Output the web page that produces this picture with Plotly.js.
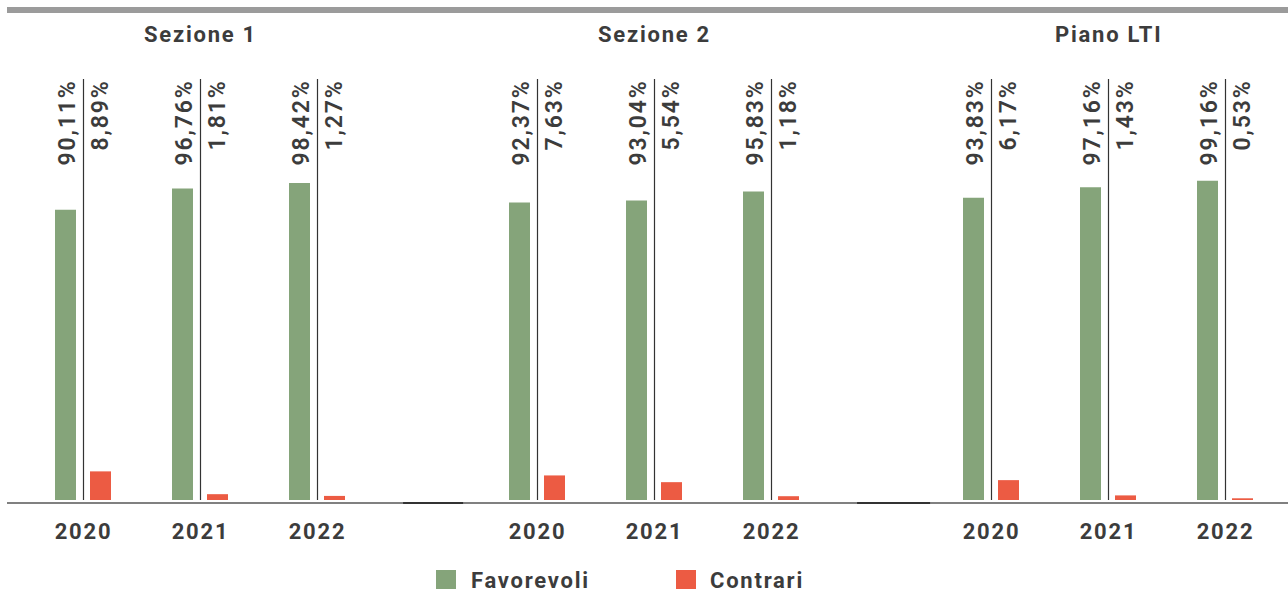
<!DOCTYPE html>
<html>
<head>
<meta charset="utf-8">
<script src="https://cdn.plot.ly/plotly-3.0.1.min.js"></script>
<style>
  html, body { margin: 0; padding: 0; background: #ffffff; }
  #chart { width: 1288px; height: 607px; }
  svg text { letter-spacing: 0.08em; }
</style>
</head>
<body>
<div id="chart"></div>
<script>
// ---------- data ----------
const groups = ["Sezione 1", "Sezione 2", "Piano LTI"];
const years = ["2020", "2021", "2022"];
const favorevoli = [90.11, 96.76, 98.42, 92.37, 93.04, 95.83, 93.83, 97.16, 99.16];
const contrari = [8.89, 1.81, 1.27, 7.63, 5.54, 1.18, 6.17, 1.43, 0.53];
const seriesNames = ["Favorevoli", "Contrari"];
const seriesColors = ["#85a47a", "#ec5b43"];

// ---------- layout constants ----------
const W = 1288, H = 607;
const M = { l: 7, r: 0, t: 0, b: 107 };
const PLOT_W = W - M.l - M.r, PLOT_H = H - M.t - M.b;
const UNIT_PX = 117;            // pixels per year step
const GROUP_STEP = 454 / 117;   // group spacing in year steps
const FIRST_PX = 83.5;          // pixel of first category centre
const PX_PER_PCT = 3.22;
const TEXT = "#3c3c3c";
const FONT = "Roboto, 'Liberation Sans', Arial, sans-serif";

const px2x = px => (px - FIRST_PX) / UNIT_PX;             // pixel -> x data
const px2pX = px => (px - M.l) / PLOT_W;                  // pixel -> paper x
const px2pY = py => (H - M.b - py) / PLOT_H;              // pixel -> paper y

const xs = [], tickText = [];
groups.forEach((g, gi) => years.forEach((y, yi) => {
  xs.push(gi * GROUP_STEP + yi);
  tickText.push(y);
}));
const fmt = v => v.toFixed(2).replace(".", ",") + "%";

const barW = 21 / UNIT_PX;
const traces = [
  { type: "bar", x: xs, y: favorevoli, name: seriesNames[0], width: barW,
    offset: -28.5 / UNIT_PX, marker: { color: seriesColors[0], line: { width: 0 } },
    hoverinfo: "skip", showlegend: false },
  { type: "bar", x: xs, y: contrari, name: seriesNames[1], width: barW,
    offset: 6.5 / UNIT_PX, marker: { color: seriesColors[1], line: { width: 0 } },
    hoverinfo: "skip", showlegend: false }
];

const shapes = [];
const annotations = [];

// top grey rule
shapes.push({ type: "rect", xref: "paper", yref: "paper", x0: 0, x1: 1,
  y0: px2pY(13), y1: px2pY(7), fillcolor: "#9b9b9b", line: { width: 0 }, layer: "below" });
// baseline
shapes.push({ type: "line", xref: "paper", yref: "paper", x0: 0, x1: 1,
  y0: px2pY(503), y1: px2pY(503), line: { color: "#808080", width: 2 } });
// darker separators between groups
[[1, -1.149, -0.636], [2, -1.149, -0.525]].forEach(([g, a, b]) => {
  shapes.push({ type: "line", xref: "x", yref: "paper",
    x0: g * GROUP_STEP + a, x1: g * GROUP_STEP + b,
    y0: px2pY(503), y1: px2pY(503), line: { color: "#333333", width: 2 } });
});

// vertical separators and value labels
const labelTop = px2pY(78);
xs.forEach((x, k) => {
  shapes.push({ type: "line", xref: "x", yref: "paper", x0: x, x1: x,
    y0: 0, y1: px2pY(79), line: { color: "#333333", width: 1.2 } });
  annotations.push({ xref: "x", yref: "paper", x: x, y: labelTop, xanchor: "center",
    yanchor: "top", xshift: -17, textangle: -90, showarrow: false, text: fmt(favorevoli[k]),
    font: { family: FONT, size: 23, color: TEXT, weight: 600 } });
  annotations.push({ xref: "x", yref: "paper", x: x, y: labelTop, xanchor: "center",
    yanchor: "top", xshift: 16.5, textangle: -90, showarrow: false, text: fmt(contrari[k]),
    font: { family: FONT, size: 23, color: TEXT, weight: 600 } });
});

// group titles
groups.forEach((g, gi) => {
  annotations.push({ xref: "x", yref: "paper", x: gi * GROUP_STEP + 1, y: px2pY(35),
    xanchor: "center", yanchor: "middle", showarrow: false, text: g,
    font: { family: FONT, size: 22, color: TEXT, weight: 700 } });
});

// legend (manual, larger swatches)
const legendPos = [{ sq: 436, tx: 469 }, { sq: 676, tx: 708 }];
seriesNames.forEach((n, i) => {
  shapes.push({ type: "rect", xref: "paper", yref: "paper",
    x0: px2pX(legendPos[i].sq), x1: px2pX(legendPos[i].sq + 20),
    y0: px2pY(589), y1: px2pY(570), fillcolor: seriesColors[i], line: { width: 0 } });
  annotations.push({ xref: "paper", yref: "paper", x: px2pX(legendPos[i].tx), y: px2pY(580),
    xanchor: "left", yanchor: "middle", showarrow: false, text: n,
    font: { family: FONT, size: 22, color: TEXT, weight: 700 } });
});

const layout = {
  width: W, height: H, margin: M,
  paper_bgcolor: "#ffffff", plot_bgcolor: "#ffffff",
  showlegend: false, barmode: "overlay",
  xaxis: { range: [px2x(M.l), px2x(W - M.r)], showgrid: false, zeroline: false,
    showline: false, ticks: "", tickmode: "array", tickvals: xs, ticktext: tickText,
    ticklabelstandoff: 16,
    tickfont: { family: FONT, size: 22, color: TEXT, weight: 700 }, fixedrange: true },
  yaxis: { range: [0, PLOT_H / PX_PER_PCT], visible: false, showgrid: false,
    zeroline: false, fixedrange: true },
  shapes: shapes, annotations: annotations
};

Plotly.newPlot("chart", traces, layout, { displayModeBar: false, staticPlot: true });
</script>
</body>
</html>
